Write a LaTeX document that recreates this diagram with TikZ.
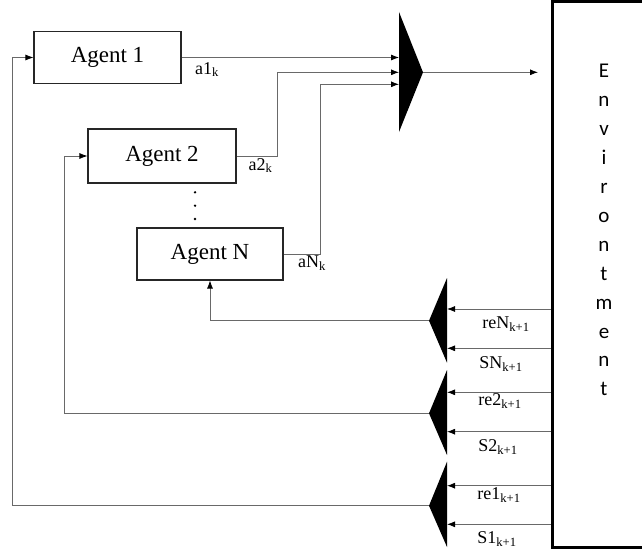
\documentclass[tikz,border=0pt]{standalone}
\usepackage{fontspec}
\setmainfont{Liberation Serif}
\newfontfamily\envfont{Carlito}
\usetikzlibrary{arrows.meta}

\begin{document}
\begin{tikzpicture}[
    x=1pt, y=-1pt,
    agent/.style={draw=black!85, line width=1.1pt, minimum width=147pt, minimum height=52pt, inner sep=0pt, font=\fontsize{23}{26}\selectfont},
    envbox/.style={draw=black, line width=3pt, minimum width=100pt, minimum height=545pt, inner sep=0pt},
    wire/.style={draw=wiregray, line width=0.8pt},
    flow/.style={wire, -{Latex[length=8pt,width=6pt,black]}},
    sig/.style={inner sep=0pt, font=\fontsize{18}{20}\selectfont},
    wedge/.style={fill=black}
]
\definecolor{wiregray}{RGB}{105,105,105}
\useasboundingbox (0,0) rectangle (642,551);

% agents
\node[agent] (agent1) at (107.5,57.5) {Agent 1};
\node[agent, minimum width=148pt, minimum height=54pt] (agent2) at (162,156) {Agent 2};
\node[agent, minimum width=146pt] (agentN) at (210,254) {Agent N};
\foreach \y in {192.3,205.7,219}
    \fill (195,\y) circle (1.3pt);

% environment
\node[envbox] (env) at (602,274.5) {};
\node[anchor=north, inner sep=0pt, align=center, font=\envfont\fontsize{21}{28.9}\selectfont] (envtext) at (604,64.3)
    {E\\n\\v\\i\\r\\o\\n\\t\\m\\e\\n\\t};

% multiplexer
\fill[wedge] (399,12) -- (423,72.3) -- (399,132) -- cycle;
\coordinate (mux) at (423,72.3);
\coordinate (muxin1) at (399,57.5);
\coordinate (muxin2) at (399,72.3);
\coordinate (muxin3) at (399,84.3);
\draw[flow] (agent1.east) -- (muxin1);
\draw[flow] (agent2.east) -- ++(41,0) |- (muxin2);
\draw[flow] (agentN.east) -- ++(37,0) |- (muxin3);
\draw[flow, shorten >=12.5pt] (mux) -- (env.west |- mux);

\node[sig] (a1) at (207,69.5) {a1\textsubscript{k}};
\node[sig] (a2) at (260.5,165.5) {a2\textsubscript{k}};
\node[sig] (aN) at (312,263) {aN\textsubscript{k}};

% demultiplexers
\fill[wedge] (447,278) -- (429,320.7) -- (447,362.7) -- cycle;
\fill[wedge] (447,370) -- (429,413.3) -- (447,455) -- cycle;
\fill[wedge] (447,461.7) -- (429,505.7) -- (447,547) -- cycle;
\coordinate (demuxN) at (429,320.7);
\coordinate (demux2) at (429,413.3);
\coordinate (demux1) at (429,505.7);
\coordinate (reNin) at (447,309);
\coordinate (SNin) at (447,348.3);
\coordinate (re2in) at (447,392.3);
\coordinate (S2in) at (447,431.7);
\coordinate (re1in) at (447,485.7);
\coordinate (S1in) at (447,524.3);
\foreach \p in {reNin,SNin,re2in,S2in,re1in,S1in}
    \draw[flow] (env.west |- \p) -- (\p);

\node[sig] (reN) at (506,324) {reN\textsubscript{k+1}};
\node[sig] (SN) at (501,364) {SN\textsubscript{k+1}};
\node[sig] (re2) at (500,401) {re2\textsubscript{k+1}};
\node[sig] (S2) at (498,447) {S2\textsubscript{k+1}};
\node[sig] (re1) at (499,495) {re1\textsubscript{k+1}};
\node[sig] (S1) at (497,539) {S1\textsubscript{k+1}};

% feedback
\coordinate (loop2) at (64,413.3);
\coordinate (loop1) at (12,505.7);
\draw[flow] (demuxN) -| (agentN.south);
\draw[flow] (demux2) -- (loop2) |- (agent2.west);
\draw[flow] (demux1) -- (loop1) |- (agent1.west);
\end{tikzpicture}
\end{document}
